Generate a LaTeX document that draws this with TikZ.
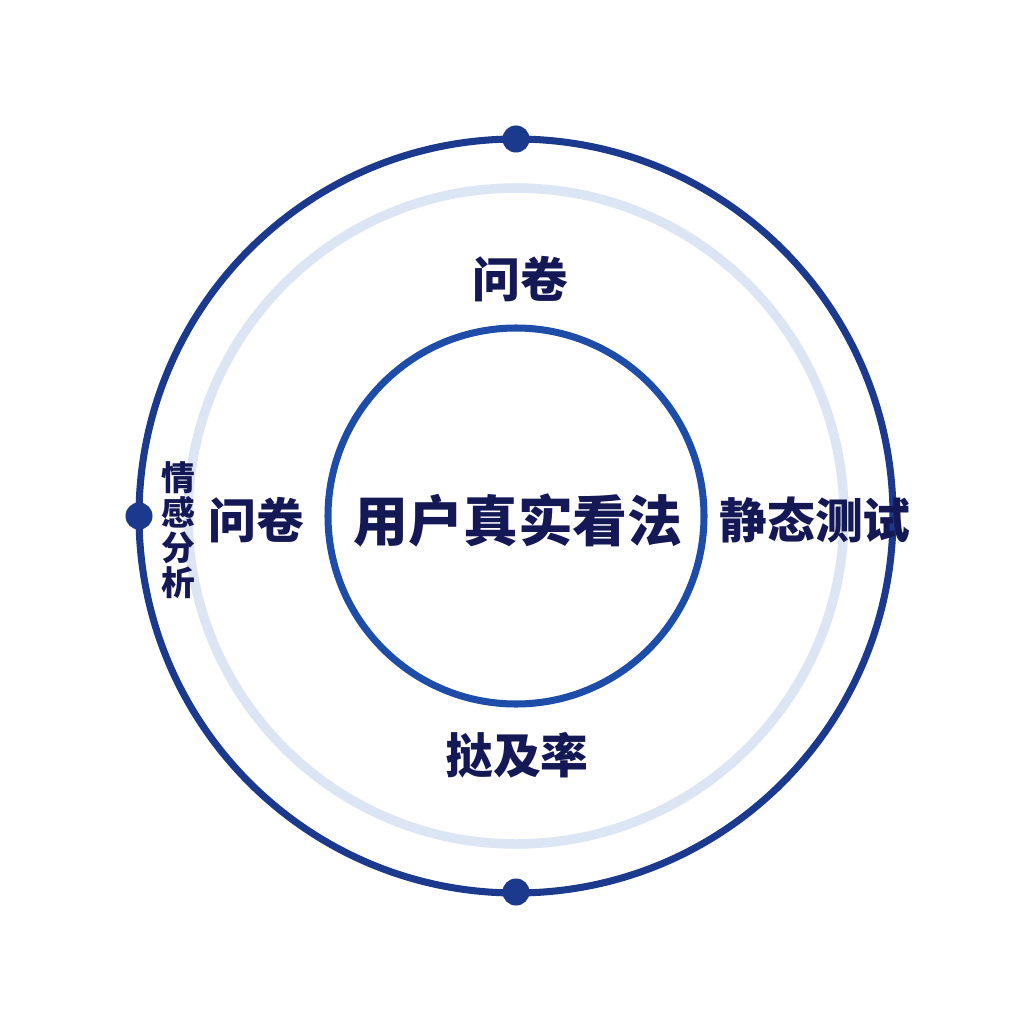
\documentclass[tikz,border=0pt]{standalone}
\usepackage{fontspec}
\newfontfamily\cjk{Noto Sans CJK SC}
\definecolor{outerblue}{HTML}{1B3A8E}
\definecolor{innerblue}{HTML}{1D4DA8}
\definecolor{paleblue}{HTML}{DCE5F3}
\definecolor{navytext}{HTML}{141854}
\begin{document}
\begin{tikzpicture}[x=0.01cm,y=-0.01cm,
  ring/.style={draw=outerblue,line width=2pt},
  softring/.style={draw=paleblue,line width=2.7pt},
  corering/.style={draw=innerblue,line width=2pt},
  dotmark/.style={circle,fill=outerblue,inner sep=0pt,minimum size=0.27cm},
  lab/.style={text=navytext,font=\cjk\bfseries\fontsize{13.6pt}{15pt}\selectfont,inner sep=0pt},
  biglab/.style={text=navytext,font=\cjk\bfseries\fontsize{15.6pt}{17pt}\selectfont,inner sep=0pt},
  vlab/.style={text=navytext,font=\cjk\bfseries\fontsize{9.6pt}{10pt}\selectfont,inner sep=0pt,align=center}]
\useasboundingbox (0,0) rectangle (1024,1024);
\fill[white] (0,0) rectangle (1024,1024);
\coordinate (c) at (516,516);
\draw[softring] (c) circle[radius=328];
\draw[ring] (c) circle[radius=377];
\draw[corering] (c) circle[radius=188];
\node[dotmark] (dtop) at (516,139) {};
\node[dotmark] (dbot) at (516,892) {};
\node[dotmark] (dleft) at (139,516) {};
\node[biglab] (center) at (518,520) {用户真实看法};
\node[lab] (top) at (520,279) {问卷};
\node[lab] (left) at (256,520) {问卷};
\node[lab] (right) at (815,520) {静态测试};
\node[lab] (bottom) at (517,755) {挞及率};
\node[vlab] (vert) at (178,530) {情\\感\\分\\析};
\end{tikzpicture}
\end{document}
